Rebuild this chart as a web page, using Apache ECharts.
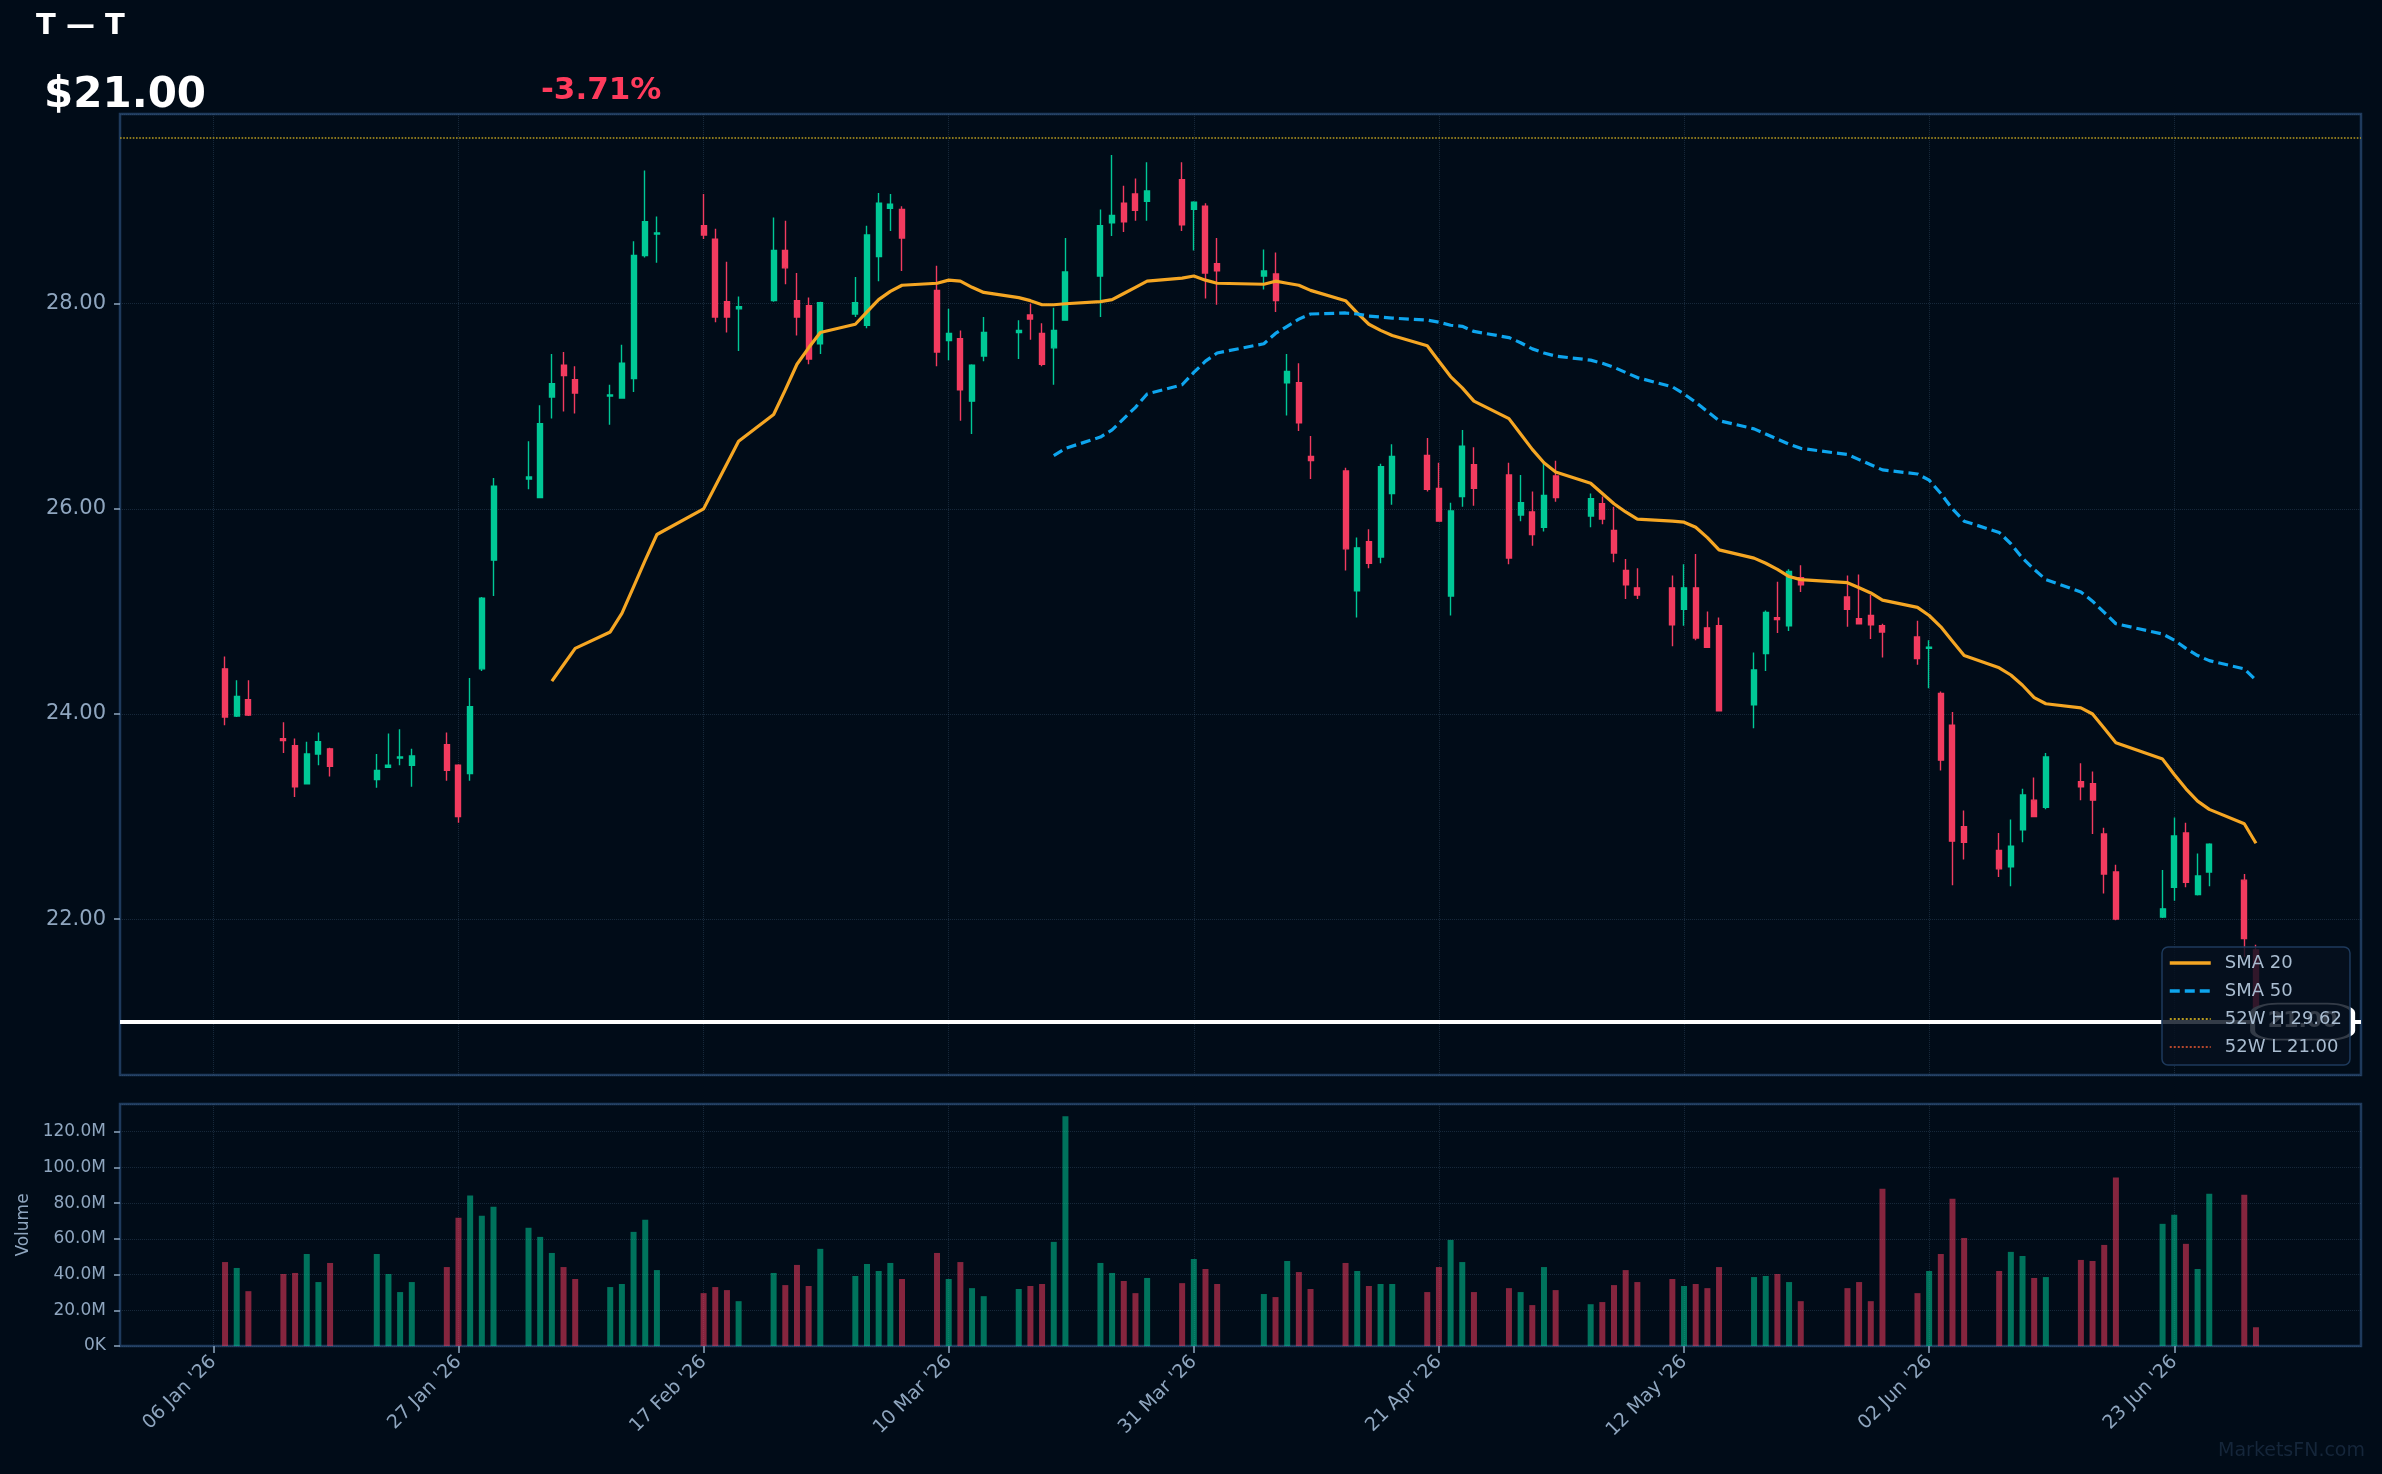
<!DOCTYPE html>
<html lang="en" style="height: 100%">
<head>
  <meta charset="utf-8">
</head>
<body style="height: 100%; margin: 0; background: #010c18">
  <div id="container" style="width: 2382px; height: 1474px"></div>

  <script type="text/javascript" src="https://cdn.jsdelivr.net/npm/echarts@6/dist/echarts.min.js"></script>

  <script type="text/javascript">
    var dom = document.getElementById('container');
    var myChart = echarts.init(dom, null, { renderer: 'canvas' });

    // trading days shown (NYSE calendar)
    const tradeDates = [
      '2026-01-07','2026-01-08','2026-01-09','2026-01-12','2026-01-13','2026-01-14','2026-01-15','2026-01-16',
      '2026-01-20','2026-01-21','2026-01-22','2026-01-23','2026-01-26','2026-01-27','2026-01-28','2026-01-29','2026-01-30',
      '2026-02-02','2026-02-03','2026-02-04','2026-02-05','2026-02-06','2026-02-09','2026-02-10','2026-02-11','2026-02-12','2026-02-13',
      '2026-02-17','2026-02-18','2026-02-19','2026-02-20','2026-02-23','2026-02-24','2026-02-25','2026-02-26','2026-02-27',
      '2026-03-02','2026-03-03','2026-03-04','2026-03-05','2026-03-06','2026-03-09','2026-03-10','2026-03-11','2026-03-12','2026-03-13',
      '2026-03-16','2026-03-17','2026-03-18','2026-03-19','2026-03-20','2026-03-23','2026-03-24','2026-03-25','2026-03-26','2026-03-27',
      '2026-03-30','2026-03-31',
      '2026-04-01','2026-04-02','2026-04-06','2026-04-07','2026-04-08','2026-04-09','2026-04-10','2026-04-13','2026-04-14','2026-04-15',
      '2026-04-16','2026-04-17','2026-04-20','2026-04-21','2026-04-22','2026-04-23','2026-04-24','2026-04-27','2026-04-28','2026-04-29','2026-04-30',
      '2026-05-01','2026-05-04','2026-05-05','2026-05-06','2026-05-07','2026-05-08','2026-05-11','2026-05-12','2026-05-13','2026-05-14',
      '2026-05-15','2026-05-18','2026-05-19','2026-05-20','2026-05-21','2026-05-22','2026-05-26','2026-05-27','2026-05-28','2026-05-29',
      '2026-06-01','2026-06-02','2026-06-03','2026-06-04','2026-06-05','2026-06-08','2026-06-09','2026-06-10','2026-06-11','2026-06-12',
      '2026-06-15','2026-06-16','2026-06-17','2026-06-18','2026-06-22','2026-06-23','2026-06-24','2026-06-25','2026-06-26',
      '2026-06-29','2026-06-30'
    ];

    const opens = [
      24.44, 23.98, 24.14, 23.76, 23.69, 23.32, 23.61, 23.66, 23.36, 23.48, 23.57, 23.50, 23.70, 23.50, 23.42, 24.44, 25.50,
      26.29, 26.11, 27.09, 27.40, 27.26, 27.10, 27.08, 27.27, 28.47, 28.68, 28.76, 28.63, 28.02, 27.95, 28.03, 28.52, 28.03, 27.98, 27.61,
      27.90, 27.79, 28.46, 28.93, 28.92, 28.13, 27.64, 27.66, 27.05, 27.49, 27.72, 27.89, 27.71, 27.57, 27.84, 28.27, 28.79, 28.98, 29.07, 29.00, 29.21, 28.92,
      28.95, 28.39, 28.27, 28.29, 27.23, 27.23, 26.51, 26.37, 25.20, 25.68, 25.53, 26.15, 26.52, 26.20, 25.15, 26.12, 26.43, 26.33, 25.94, 25.97, 25.82,
      26.32, 25.93, 26.05, 25.79, 25.40, 25.23, 25.23, 25.02, 25.23, 24.84, 24.86, 24.09, 24.59, 24.94, 24.86, 25.33, 25.14, 24.93, 24.96, 24.86,
      24.75, 24.64, 24.20, 23.89, 22.90, 22.67, 22.51, 22.87, 23.16, 23.09, 23.34, 23.32, 22.83, 22.46, 22.02, 22.31, 22.84, 22.24, 22.46, 22.38, 21.70
    ];
    const highs = [
      24.56, 24.33, 24.33, 23.92, 23.76, 23.73, 23.82, 23.67, 23.61, 23.81, 23.85, 23.66, 23.82, 23.51, 24.35, 25.14, 26.30,
      26.66, 27.01, 27.51, 27.53, 27.39, 27.21, 27.60, 28.61, 29.30, 28.85, 29.07, 28.73, 28.41, 28.07, 28.84, 28.81, 28.30, 28.06, 28.02,
      28.26, 28.76, 29.08, 29.07, 28.95, 28.37, 27.95, 27.74, 27.41, 27.87, 27.84, 28.00, 27.81, 27.96, 28.64, 28.92, 29.45, 29.15, 29.22, 29.38, 29.38, 29.00,
      28.98, 28.64, 28.53, 28.50, 27.51, 27.42, 26.71, 26.40, 25.72, 25.80, 26.44, 26.63, 26.69, 26.45, 26.06, 26.77, 26.60, 26.45, 26.33, 26.17, 26.45,
      26.47, 26.15, 26.12, 26.02, 25.51, 25.42, 25.35, 25.46, 25.56, 25.00, 24.94, 24.60, 25.01, 25.29, 25.41, 25.45, 25.35, 25.36, 25.16, 24.88,
      24.91, 24.72, 24.22, 24.02, 23.06, 22.84, 22.97, 23.27, 23.38, 23.62, 23.52, 23.44, 22.89, 22.53, 22.48, 22.99, 22.94, 22.64, 22.74, 22.44, 21.75
    ];
    const lows = [
      23.89, 23.97, 23.98, 23.62, 23.19, 23.32, 23.50, 23.39, 23.28, 23.48, 23.50, 23.29, 23.35, 22.94, 23.35, 24.42, 25.15,
      26.19, 26.11, 26.88, 26.95, 26.93, 26.82, 27.08, 27.14, 28.45, 28.40, 28.63, 27.82, 27.72, 27.54, 28.02, 28.19, 27.69, 27.41, 27.51,
      27.87, 27.76, 28.22, 28.71, 28.32, 27.39, 27.45, 26.86, 26.73, 27.44, 27.46, 27.65, 27.39, 27.21, 27.84, 27.87, 28.66, 28.70, 28.81, 28.81, 28.71, 28.52,
      28.05, 27.99, 28.14, 27.92, 26.91, 26.76, 26.29, 25.40, 24.94, 25.42, 25.47, 26.04, 26.17, 25.88, 24.96, 26.02, 26.03, 25.46, 25.88, 25.64, 25.78,
      26.07, 25.82, 25.85, 25.48, 25.12, 25.12, 24.66, 24.86, 24.72, 24.65, 24.03, 23.86, 24.42, 24.79, 24.81, 25.19, 24.85, 24.88, 24.73, 24.55,
      24.48, 24.25, 23.45, 22.33, 22.58, 22.41, 22.32, 22.75, 23.00, 23.07, 23.16, 22.83, 22.25, 21.99, 22.01, 22.18, 22.31, 22.23, 22.32, 21.63, 20.91
    ];
    const closes = [
      23.97, 24.17, 23.99, 23.74, 23.29, 23.61, 23.73, 23.49, 23.45, 23.50, 23.58, 23.59, 23.45, 23.00, 24.07, 25.13, 26.22,
      26.31, 26.83, 27.22, 27.30, 27.13, 27.11, 27.42, 28.47, 28.80, 28.69, 28.67, 27.87, 27.87, 27.97, 28.52, 28.35, 27.87, 27.46, 28.01,
      28.01, 28.67, 28.98, 28.97, 28.64, 27.53, 27.71, 27.16, 27.40, 27.72, 27.74, 27.85, 27.41, 27.74, 28.31, 28.76, 28.86, 28.80, 28.91, 29.10, 28.77, 28.99,
      28.30, 28.32, 28.32, 28.03, 27.34, 26.84, 26.47, 25.61, 25.62, 25.47, 26.41, 26.51, 26.19, 25.88, 25.98, 26.61, 26.20, 25.52, 26.06, 25.75, 26.13,
      26.11, 26.10, 25.90, 25.57, 25.26, 25.16, 24.87, 25.23, 24.74, 24.65, 24.03, 24.43, 24.99, 24.92, 25.39, 25.26, 25.02, 24.88, 24.87, 24.80,
      24.54, 24.65, 23.55, 22.76, 22.75, 22.49, 22.71, 23.21, 23.00, 23.58, 23.29, 23.16, 22.44, 22.00, 22.10, 22.81, 22.36, 22.42, 22.73, 21.81, 21.00
    ];
    // volume, millions of shares
    const volumes = [
      47.0, 43.7, 30.7, 40.3, 40.9, 51.5, 35.8, 46.5, 51.5, 40.3, 30.2, 35.8, 44.2, 71.8, 84.2, 72.9, 78.0,
      66.2, 61.1, 52.1, 44.2, 37.5, 33.0, 34.7, 63.9, 70.7, 42.5, 29.6, 33.0, 31.3, 25.1, 40.9, 34.1, 45.4, 33.6, 54.4,
      39.2, 45.9, 42.0, 46.5, 37.5, 52.1, 37.5, 47.0, 32.4, 27.9, 31.9, 33.6, 34.7, 58.3, 128.6, 46.5, 40.9, 36.4, 29.6, 38.1, 35.2, 48.7,
      43.1, 34.7, 29.1, 27.4, 47.6, 41.4, 31.9, 46.5, 42.0, 33.6, 34.7, 34.7, 30.2, 44.2, 59.4, 47.0, 30.2, 32.4, 30.2, 22.9, 44.2,
      31.3, 23.4, 24.6, 34.1, 42.5, 35.8, 37.5, 33.6, 34.7, 32.4, 44.2, 38.6, 39.2, 40.3, 35.8, 25.1, 32.4, 35.8, 25.1, 88.1,
      29.6, 42.0, 51.5, 82.5, 60.5, 42.0, 52.7, 50.4, 38.1, 38.6, 48.2, 47.6, 56.6, 94.3, 68.4, 73.5, 57.2, 43.1, 85.3, 84.7, 10.5
    ];

    // SMA 20 starts at the 20th session (2026-02-04)
    const sma20Start = 19;
    const sma20 = [
      24.32, 24.48, 24.64, 24.80, 24.98, 25.24, 25.50, 25.75, 26.00, 26.22, 26.44, 26.66, 26.92, 27.16, 27.41, 27.57, 27.72,
      27.80, 27.92, 28.04, 28.12, 28.18, 28.20, 28.23, 28.22, 28.16, 28.11, 28.06, 28.03, 27.99, 27.99, 28.00, 28.02, 28.04, 28.10, 28.16, 28.22, 28.25, 28.27,
      28.23, 28.20, 28.19, 28.22, 28.20, 28.18, 28.13, 28.03, 27.91, 27.80, 27.74, 27.69, 27.59, 27.44, 27.29, 27.18, 27.05, 26.88, 26.73, 26.58, 26.45,
      26.36, 26.25, 26.15, 26.05, 25.97, 25.90, 25.88, 25.87, 25.82, 25.72, 25.60, 25.52, 25.47, 25.41, 25.34, 25.31, 25.28, 25.23, 25.18, 25.11,
      25.04, 24.96, 24.85, 24.71, 24.57, 24.45, 24.38, 24.28, 24.16, 24.10, 24.06, 24.00, 23.86, 23.72, 23.56, 23.41, 23.27, 23.15, 23.07, 22.93, 22.74
    ];
    // SMA 50 starts at the 50th session (2026-03-19)
    const sma50Start = 49;
    const sma50 = [
      26.52, 26.59, 26.70, 26.77, 26.88, 26.99, 27.12, 27.21, 27.33,
      27.44, 27.52, 27.61, 27.71, 27.78, 27.85, 27.90, 27.91, 27.90, 27.88, 27.87, 27.86, 27.84, 27.82, 27.79, 27.78, 27.73, 27.67, 27.62, 27.56, 27.52,
      27.49, 27.45, 27.42, 27.38, 27.33, 27.28, 27.19, 27.12, 27.04, 26.95, 26.86, 26.78, 26.73, 26.68, 26.63, 26.59, 26.53, 26.48, 26.43, 26.38,
      26.34, 26.28, 26.15, 26.00, 25.88, 25.77, 25.66, 25.52, 25.41, 25.31, 25.19, 25.10, 24.99, 24.88, 24.78, 24.72, 24.64, 24.57, 24.52, 24.44, 24.33
    ];

    const high52 = 29.62;
    const low52 = 21.00;
    const tickDates = ['2026-01-06','2026-01-27','2026-02-17','2026-03-10','2026-03-31','2026-04-21','2026-05-12','2026-06-02','2026-06-23'];
    const axisStart = '2025-12-29';
    const axisEnd = '2026-07-09';
    const priceTagDate = '2026-07-04';

    const FONT = 'DejaVu Sans';
    const UP = '#00c896';
    const DOWN = '#f23b5f';
    const LABEL = '#8fa6bf';
    const GRIDLINE = 'rgba(70,100,130,0.32)';
    const BORDER = '#1e3a5c';
    const SMA20_C = '#f5a623';
    const SMA50_C = '#0ea5ee';
    const HI_C = '#b89a1e';
    const LO_C = '#b5472c';

    // calendar categories for the date axis
    const calendar = [];
    for (let t = Date.parse(axisStart); t <= Date.parse(axisEnd); t += 86400000) {
      calendar.push(new Date(t).toISOString().slice(0, 10));
    }
    const MONTHS = ['Jan','Feb','Mar','Apr','May','Jun','Jul','Aug','Sep','Oct','Nov','Dec'];
    function fmtDate(s) {
      return s.slice(8, 10) + ' ' + MONTHS[+s.slice(5, 7) - 1] + " '" + s.slice(2, 4);
    }
    const isTick = function (idx, value) { return tickDates.indexOf(value) >= 0; };

    const rows = tradeDates.map(function (d, i) {
      const a = sma20[i - sma20Start];
      const b = sma50[i - sma50Start];
      return [d, opens[i], closes[i], lows[i], highs[i], volumes[i],
        a == null ? null : a, b == null ? null : b];
    });

    const last = closes[closes.length - 1];
    const prev = closes[closes.length - 2];
    const pct = (last / prev - 1) * 100;
    const hiName = '52W H ' + high52.toFixed(2);
    const loName = '52W L ' + low52.toFixed(2);

    option = {
      backgroundColor: '#010c18',
      animation: false,
      textStyle: { fontFamily: FONT },
      title: [
        { text: 'T — T', left: 36, top: 12, padding: 0,
          textStyle: { color: '#ffffff', fontSize: 29, fontWeight: 'bold', fontFamily: FONT } },
        { text: '$' + last.toFixed(2), left: 44, top: 75, padding: 0,
          textStyle: { color: '#ffffff', fontSize: 42, fontWeight: 'bold', fontFamily: FONT } },
        { text: pct.toFixed(2) + '%', left: 541, top: 75, padding: 0,
          textStyle: { color: '#ff3b5c', fontSize: 31, fontWeight: 'bold', fontFamily: FONT } }
      ],
      legend: {
        data: [
          { name: 'SMA 20', lineStyle: { color: SMA20_C, width: 3.5, type: 'solid' } },
          { name: 'SMA 50', lineStyle: { color: SMA50_C, width: 3.5, type: [10, 5] } },
          { name: hiName, lineStyle: { color: HI_C, width: 2, type: 'dotted' } },
          { name: loName, lineStyle: { color: LO_C, width: 2, type: 'dotted' } }
        ],
        orient: 'vertical',
        left: 2162,
        top: 947,
        z: 10,
        padding: [7, 8, 9, 6],
        itemGap: 10,
        itemWidth: 41,
        itemHeight: 14,
        itemStyle: { opacity: 0 },
        backgroundColor: 'rgba(6,16,30,0.82)',
        borderColor: BORDER,
        borderWidth: 1.5,
        borderRadius: 6,
        textStyle: { color: '#a9bcd0', fontSize: 18, fontFamily: FONT, padding: [0, 0, 0, 9] }
      },
      graphic: [
        { type: 'text', right: 17, bottom: 13,
          style: { text: 'MarketsFN.com', fill: '#15263a', font: '19px "DejaVu Sans"' } }
      ],
      dataset: {
        dimensions: ['date', 'open', 'close', 'low', 'high', 'vol', 'sma20', 'sma50'],
        source: rows
      },
      grid: [
        { left: 120, right: 21, top: 114, height: 961, show: true, borderColor: BORDER, borderWidth: 2.5 },
        { left: 120, right: 21, top: 1104, height: 242, show: true, borderColor: BORDER, borderWidth: 2.5 }
      ],
      xAxis: [
        {
          type: 'category', gridIndex: 0, data: calendar, boundaryGap: false,
          axisLine: { show: false }, axisTick: { show: false }, axisLabel: { show: false },
          splitLine: { show: true, interval: isTick, lineStyle: { color: GRIDLINE, type: 'dotted', width: 1 } }
        },
        {
          type: 'category', gridIndex: 1, data: calendar, boundaryGap: false,
          axisLine: { show: false },
          axisTick: { show: true, interval: isTick, length: 7, lineStyle: { color: LABEL, width: 1.5 } },
          axisLabel: {
            interval: isTick, rotate: 45, margin: 13, color: LABEL, fontSize: 19, fontFamily: FONT,
            formatter: fmtDate
          },
          splitLine: { show: true, interval: isTick, lineStyle: { color: GRIDLINE, type: 'dotted', width: 1 } }
        }
      ],
      yAxis: [
        {
          type: 'value', gridIndex: 0, min: 20.48, max: 29.85, splitNumber: 5, scale: true,
          axisLine: { show: false },
          axisTick: { show: true, length: 6, lineStyle: { color: LABEL, width: 1.5 } },
          axisLabel: { color: LABEL, fontSize: 21, fontFamily: FONT, margin: 14,
            showMinLabel: false, showMaxLabel: false,
            formatter: function (v) { return v.toFixed(2); } },
          splitLine: { show: true, lineStyle: { color: GRIDLINE, type: 'dotted', width: 1 } }
        },
        {
          type: 'value', gridIndex: 1, min: 0, max: 135.5, interval: 20,
          name: 'Volume', nameLocation: 'middle', nameGap: 87, nameRotate: 90,
          nameTextStyle: { color: LABEL, fontSize: 17, fontFamily: FONT },
          axisLine: { show: false },
          axisTick: { show: true, length: 6, lineStyle: { color: LABEL, width: 1.5 } },
          axisLabel: { color: LABEL, fontSize: 17, fontFamily: FONT, margin: 14, showMaxLabel: false,
            formatter: function (v) { return v === 0 ? '0K' : v.toFixed(1) + 'M'; } },
          splitLine: { show: true, lineStyle: { color: GRIDLINE, type: 'dotted', width: 1 } }
        }
      ],
      series: [
        {
          type: 'candlestick', name: 'T',
          xAxisIndex: 0, yAxisIndex: 0,
          encode: { x: 'date', y: ['open', 'close', 'low', 'high'] },
          barWidth: 5.5,
          itemStyle: { color: UP, color0: DOWN, borderColor: UP, borderColor0: DOWN, borderWidth: 1.4 },
          markLine: {
            silent: true, symbol: 'none', label: { show: false },
            lineStyle: { color: '#ffffff', width: 4, type: 'solid' },
            data: [{ yAxis: last }]
          },
          markPoint: {
            silent: true,
            symbol: 'roundRect',
            symbolSize: [100, 36],
            itemStyle: { color: '#0a1420', borderColor: '#ffffff', borderWidth: 3 },
            label: { show: true, color: '#ffffff', fontSize: 22, fontWeight: 'bold', fontFamily: FONT,
              formatter: last.toFixed(2) },
            data: [{ coord: [priceTagDate, last] }]
          }
        },
        {
          type: 'line', name: 'SMA 20', xAxisIndex: 0, yAxisIndex: 0,
          encode: { x: 'date', y: 'sma20' },
          symbol: 'none', smooth: false,
          lineStyle: { color: SMA20_C, width: 3.2 },
          itemStyle: { color: SMA20_C }
        },
        {
          type: 'line', name: 'SMA 50', xAxisIndex: 0, yAxisIndex: 0,
          encode: { x: 'date', y: 'sma50' },
          symbol: 'none',
          lineStyle: { color: SMA50_C, width: 3.2, type: [10, 5] },
          itemStyle: { color: SMA50_C }
        },
        {
          type: 'line', name: hiName, xAxisIndex: 0, yAxisIndex: 0,
          data: [], symbol: 'none',
          lineStyle: { color: HI_C, width: 2, type: 'dotted' },
          itemStyle: { color: HI_C },
          markLine: {
            silent: true, symbol: 'none', label: { show: false },
            lineStyle: { color: HI_C, width: 1.6, type: 'dotted' },
            data: [{ yAxis: high52 }]
          }
        },
        {
          type: 'line', name: loName, xAxisIndex: 0, yAxisIndex: 0,
          data: [], symbol: 'none', z: 1,
          lineStyle: { color: LO_C, width: 2, type: 'dotted' },
          itemStyle: { color: LO_C },
          markLine: {
            silent: true, symbol: 'none', label: { show: false }, z: 1,
            lineStyle: { color: LO_C, width: 1.6, type: 'dotted' },
            data: [{ yAxis: low52 }]
          }
        },
        {
          type: 'bar', name: 'Volume', xAxisIndex: 1, yAxisIndex: 1,
          encode: { x: 'date', y: 'vol' },
          barWidth: 6,
          itemStyle: {
            color: function (p) {
              return p.data[2] >= p.data[1] ? 'rgba(0,200,150,0.55)' : 'rgba(242,59,95,0.55)';
            }
          }
        }
      ]
    };

    if (option && typeof option === 'object') {
      myChart.setOption(option);
    }

    window.addEventListener('resize', myChart.resize);
  </script>
</body>
</html>
